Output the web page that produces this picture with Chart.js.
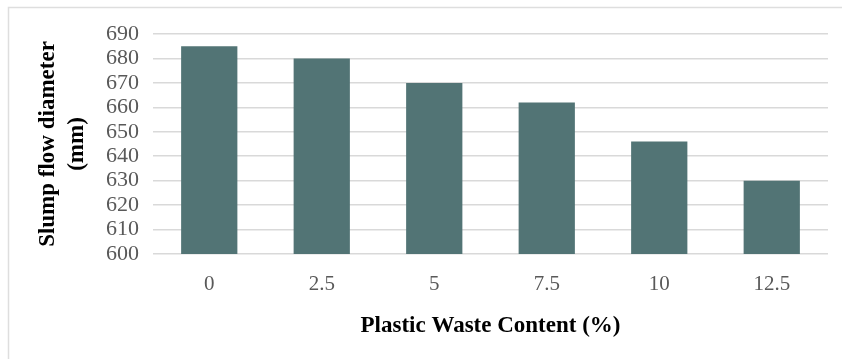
<!DOCTYPE html>
<html>
<head>
<meta charset="utf-8">
<script src="https://cdn.jsdelivr.net/npm/chart.js@4"></script>
<style>
  html, body { margin: 0; padding: 0; background: #ffffff; }
  #wrap { width: 842px; height: 359px; position: relative; }
</style>
</head>
<body>
<div id="wrap"><canvas id="chart" width="842" height="359"></canvas></div>
<script>
// Slump flow diameter versus plastic waste content
const categories = ['0', '2.5', '5', '7.5', '10', '12.5'];
const slumpFlow = [685, 680, 670, 662, 646, 630];
const yTicks = [600, 610, 620, 630, 640, 650, 660, 670, 680, 690];

const xTitle = 'Plastic Waste Content (%)';
const yTitle = ['Slump flow diameter', '(mm)'];

// Light frame along the top and left edges of the figure
const framePlugin = {
  id: 'frame',
  beforeDraw(chart) {
    const ctx = chart.ctx;
    ctx.save();
    ctx.fillStyle = '#ffffff';
    ctx.fillRect(0, 0, chart.width, chart.height);
    ctx.strokeStyle = '#dedede';
    ctx.lineWidth = 1.5;
    ctx.beginPath();
    ctx.moveTo(8.5, chart.height);
    ctx.lineTo(8.5, 7.5);
    ctx.lineTo(chart.width, 7.5);
    ctx.stroke();
    ctx.restore();
  }
};

new Chart(document.getElementById('chart'), {
  type: 'bar',
  data: {
    labels: categories,
    datasets: [{
      data: slumpFlow,
      backgroundColor: '#527475',
      borderWidth: 0,
      barPercentage: 0.5,
      categoryPercentage: 1.0
    }]
  },
  options: {
    responsive: false,
    animation: false,
    layout: { padding: { left: 34, right: 14, top: 34, bottom: 19 } },
    plugins: {
      legend: { display: false },
      tooltip: { enabled: false }
    },
    scales: {
      x: {
        grid: { display: false, drawTicks: false },
        border: { display: false },
        ticks: {
          padding: 18,
          color: '#595959',
          font: { family: 'Liberation Serif', size: 21 }
        },
        title: {
          display: true,
          text: xTitle,
          color: '#000000',
          padding: 0,
          font: { family: 'Liberation Serif', size: 23, weight: 'bold' }
        },
        afterFit(scale) { scale.height = 86; }
      },
      y: {
        min: 600,
        max: 690,
        afterBuildTicks(scale) { scale.ticks = yTicks.map(v => ({ value: v })); },
        grid: { color: '#d9d9d9', lineWidth: 1.5, drawTicks: false },
        border: { display: false },
        ticks: {
          autoSkip: false,
          padding: 14,
          color: '#595959',
          font: { family: 'Liberation Serif', size: 22, lineHeight: 1.0 }
        },
        title: {
          display: true,
          text: yTitle,
          color: '#000000',
          padding: 0,
          font: { family: 'Liberation Serif', size: 23, weight: 'bold', lineHeight: '29px' }
        },
        afterFit(scale) { scale.width = 119; }
      }
    }
  },
  plugins: [framePlugin]
});
</script>
</body>
</html>
